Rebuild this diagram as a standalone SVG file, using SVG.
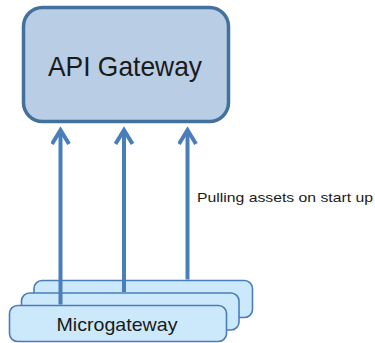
<svg xmlns="http://www.w3.org/2000/svg" width="375" height="343" viewBox="0 0 375 343">
  <style>
    .gw { fill: #b9cde5; stroke: #41719c; stroke-width: 3.5; }
    .mg { fill: #cce9fb; stroke: #4a7ebb; stroke-width: 1.6; }
    .link { fill: none; stroke: #4a7ebb; stroke-width: 4; }
    text { font-family: "Liberation Sans", Arial, sans-serif; fill: #1a1a1a; }
  </style>
  <defs>
    <!-- open V arrowhead, drawn pointing along +x so orient="auto" follows the line -->
    <marker id="open-arrow" viewBox="0 0 20 20" refX="16" refY="10" markerWidth="20" markerHeight="20" markerUnits="userSpaceOnUse" orient="auto">
      <path d="M2,1.5 L16,10 L2,18.5" fill="none" stroke="#4a7ebb" stroke-width="4" stroke-linejoin="miter"/>
    </marker>
  </defs>
  <rect width="375" height="343" fill="#ffffff"/>

  <g id="api-gateway">
    <rect class="gw" x="23.5" y="7.5" width="205" height="114" rx="19" ry="19"/>
    <text x="125" y="76" font-size="28" text-anchor="middle" textLength="154" lengthAdjust="spacingAndGlyphs">API Gateway</text>
  </g>

  <g id="microgateway-3">
    <rect class="mg" x="34" y="280.5" width="218.5" height="37" rx="8" ry="8"/>
  </g>
  <g id="microgateway-2">
    <rect class="mg" x="21.5" y="293" width="217.5" height="37" rx="8" ry="8"/>
  </g>
  <g id="microgateway-1">
    <rect class="mg" x="9.5" y="305.5" width="217" height="36" rx="8" ry="8"/>
    <text x="117" y="331" font-size="19" text-anchor="middle" textLength="121" lengthAdjust="spacingAndGlyphs">Microgateway</text>
  </g>

  <g id="connectors">
    <line class="link" x1="60.5" y1="304.5" x2="60.5" y2="130" marker-end="url(#open-arrow)"/>
    <line class="link" x1="124" y1="292" x2="124" y2="130" marker-end="url(#open-arrow)"/>
    <line class="link" x1="187.5" y1="279.5" x2="187.5" y2="130" marker-end="url(#open-arrow)"/>
    <text x="197" y="202" font-size="13.5" textLength="176" lengthAdjust="spacingAndGlyphs">Pulling assets on start up</text>
  </g>
</svg>
